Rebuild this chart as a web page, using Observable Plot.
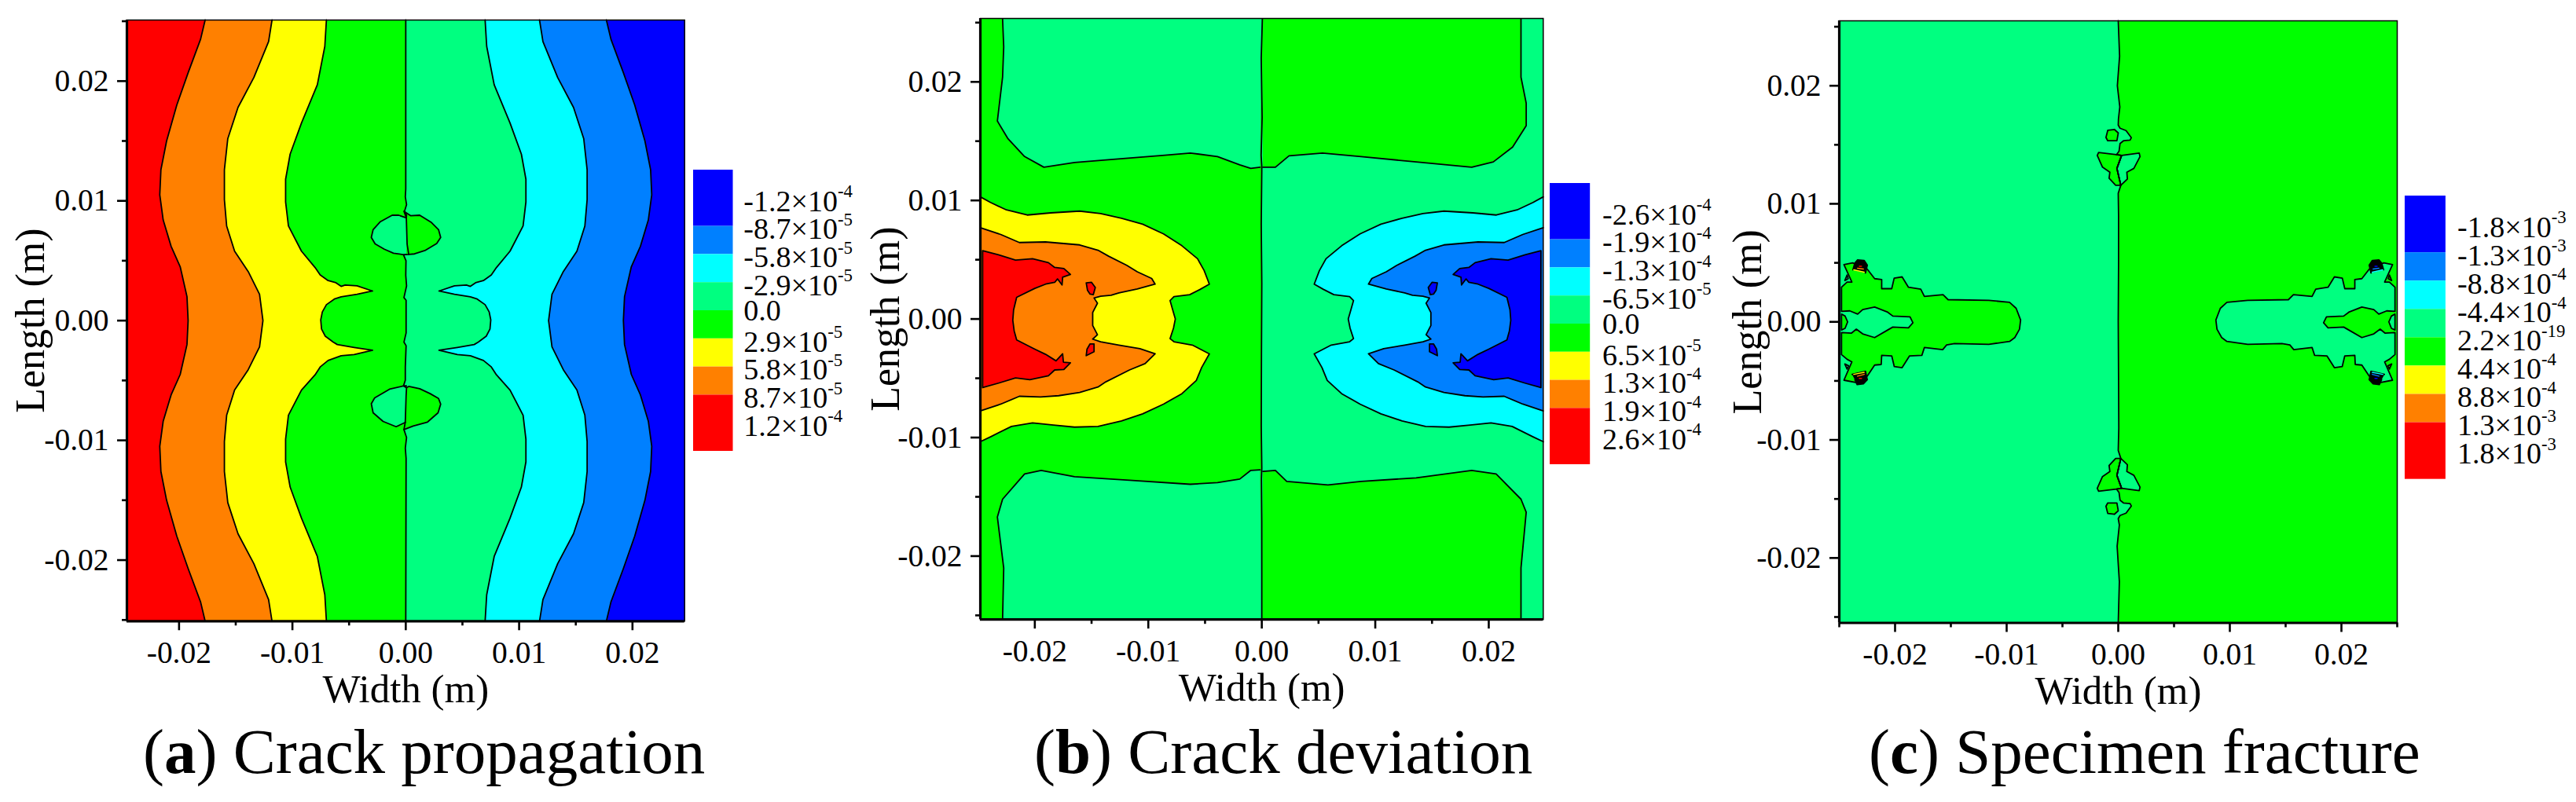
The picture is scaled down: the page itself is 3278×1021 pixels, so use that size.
<!DOCTYPE html>
<html><head><meta charset="utf-8">
<script src="https://cdn.jsdelivr.net/npm/d3@7"></script>
<script src="https://cdn.jsdelivr.net/npm/@observablehq/plot@0.6"></script>
<style>
html,body{margin:0;padding:0;background:#fff;overflow:hidden}
#page{position:absolute;left:0;top:0;width:3278px;height:1021px;font-family:"Liberation Serif",serif}
#page svg{position:absolute;overflow:visible;background:transparent}
.cap{position:absolute;font-size:81px;line-height:81px;white-space:nowrap;color:#000}
</style></head><body><div id="page"></div>
<script>
const RED="#ff0000",ORG="#ff8000",YEL="#ffff00",GRN="#00ff00",SPR="#00ff80",CYN="#00ffff",AZU="#0080ff",BLU="#0000ff";
const swatchColors=[BLU,AZU,CYN,SPR,GRN,YEL,ORG,RED];
const swatchTop=[-1,1,2,3,4,5,6,7], swatchBottom=[1,2,3,4,5,6,7,9];
const labelsA=["-1.2×10^-4","-8.7×10^-5","-5.8×10^-5","-2.9×10^-5","0.0","2.9×10^-5","5.8×10^-5","8.7×10^-5","1.2×10^-4"];
const labelsB=["-2.6×10^-4","-1.9×10^-4","-1.3×10^-4","-6.5×10^-5","0.0","6.5×10^-5","1.3×10^-4","1.9×10^-4","2.6×10^-4"];
const labelsC=["-1.8×10^-3","-1.3×10^-3","-8.8×10^-4","-4.4×10^-4","2.2×10^-19","4.4×10^-4","8.8×10^-4","1.3×10^-3","1.8×10^-3"];
const ticksMajor=[-0.02,-0.01,0,0.01,0.02];
const minorInner=[-0.015,-0.005,0.005,0.015];
const minorOuter=[-0.025,-0.015,-0.005,0.005,0.015,0.025];

// Panel (a): contour lines, in millimetres [width, length]
const a1=[[-17.7,25.1],[-18.1,23.5],[-19.2,20.7],[-20.2,18],[-21.1,15],[-21.6,12.6],[-21.7,10.5],[-21.4,8.4],[-20.7,6.2],[-19.9,4.5],[-19.3,2],[-19.2,0],[-19.3,-2],[-19.9,-4.5],[-20.7,-6.2],[-21.4,-8.4],[-21.7,-10.5],[-21.6,-12.6],[-21.1,-15],[-20.2,-18],[-19.2,-20.7],[-18.1,-23.5],[-17.7,-25.1]];
const a2=[[-11.8,25.1],[-12.1,23.3],[-13.4,20.3],[-14.8,17.8],[-15.7,15.2],[-16,12.6],[-16,10.1],[-15.8,7.9],[-15.1,5.8],[-13.9,4.1],[-12.9,2.2],[-12.6,0],[-12.9,-2.2],[-13.9,-4.1],[-15.1,-5.8],[-15.8,-7.9],[-16,-10.1],[-16,-12.6],[-15.7,-15.2],[-14.8,-17.8],[-13.4,-20.3],[-12.1,-23.3],[-11.8,-25.1]];
const a3=[[-7,25.1],[-7.14,22.9],[-7.8,19.7],[-9.2,16.5],[-10.2,13.9],[-10.6,11.8],[-10.6,9.9],[-10.35,7.9],[-9.2,5.8],[-8,4.43],[-7.55,3.82],[-6.85,3.34],[-6.16,3.16],[-5.7,2.86],[-5.35,2.97],[-4.3,2.9],[-2.93,2.47],[-4.3,2.2],[-5.7,1.98],[-6.3,1.8],[-7,1.33],[-7.36,0.72],[-7.5,0.06],[-7.43,-0.7],[-7.1,-1.3],[-6.4,-1.8],[-6.04,-2],[-4.55,-2.24],[-2.93,-2.47],[-4.55,-2.83],[-5.7,-2.94],[-6.85,-3.33],[-7.55,-3.87],[-8,-4.53],[-9.2,-5.8],[-10.35,-7.9],[-10.6,-9.9],[-10.6,-11.8],[-10.2,-13.9],[-9.2,-16.5],[-7.8,-19.7],[-7.14,-22.9],[-7,-25.1]];
const a6=[[7,25.1],[7.14,22.9],[7.8,19.7],[9.2,16.5],[10.2,13.9],[10.6,11.8],[10.6,9.9],[10.35,7.9],[9.2,5.8],[8,4.43],[7.55,3.82],[6.85,3.34],[6.16,3.16],[5.7,2.86],[5.35,2.97],[4.3,2.9],[2.93,2.47],[4.3,2.2],[5.7,1.98],[6.3,1.8],[7,1.33],[7.36,0.72],[7.5,0.06],[7.43,-0.7],[7.1,-1.3],[6.4,-1.8],[6.04,-2],[4.55,-2.24],[2.93,-2.47],[4.55,-2.83],[5.7,-2.94],[6.85,-3.33],[7.55,-3.87],[8,-4.53],[9.2,-5.8],[10.35,-7.9],[10.6,-9.9],[10.6,-11.8],[10.2,-13.9],[9.2,-16.5],[7.8,-19.7],[7.14,-22.9],[7,-25.1]];
const a7=[[11.8,25.1],[12.1,23.3],[13.4,20.3],[14.8,17.8],[15.7,15.2],[16,12.6],[16,10.1],[15.8,7.9],[15.1,5.8],[13.9,4.1],[12.9,2.2],[12.6,0],[12.9,-2.2],[13.9,-4.1],[15.1,-5.8],[15.8,-7.9],[16,-10.1],[16,-12.6],[15.7,-15.2],[14.8,-17.8],[13.4,-20.3],[12.1,-23.3],[11.8,-25.1]];
const a8=[[17.7,25.1],[18.1,23.5],[19.2,20.7],[20.2,18],[21.1,15],[21.6,12.6],[21.7,10.5],[21.4,8.4],[20.7,6.2],[19.9,4.5],[19.3,2],[19.2,0],[19.3,-2],[19.9,-4.5],[20.7,-6.2],[21.4,-8.4],[21.7,-10.5],[21.6,-12.6],[21.1,-15],[20.2,-18],[19.2,-20.7],[18.1,-23.5],[17.7,-25.1]];
const aMid=[[0,25.1],[0,11],[-0.04,10.33],[0.07,9.68],[-0.11,9.13],[0.07,8.8],[0.05,8.58],[0.12,6.4],[0.26,5.53],[-0.2,5.5],[0.02,5],[0,3.78],[0.07,2.9],[-0.16,1.92],[0.03,1.7],[0.03,-1.03],[-0.16,-1.8],[0.03,-2.1],[-0.04,-3.87],[-0.04,-4.97],[-0.2,-5.45],[0.07,-5.62],[0.03,-6.28],[-0.04,-8.47],[-0.16,-9.1],[0.07,-9.76],[-0.04,-10.65],[0.03,-11.5],[0,-25.1]];
const aBubUL=[[0.05,5.53],[-0.15,5.5],[-1.08,5.63],[-1.89,5.96],[-2.7,6.4],[-3.04,6.95],[-2.88,7.6],[-2.24,8.26],[-1.2,8.8],[-0.62,8.8],[0.05,8.58]];
const aBubUR=[[0.05,8.58],[-0.16,9.13],[0.42,8.76],[1.23,8.8],[2.27,8.19],[2.89,7.6],[3.08,6.95],[2.73,6.44],[1.69,5.85],[0.77,5.57],[0.26,5.53]];
const aBubLL=[[0.05,-5.45],[-0.16,-5.45],[-1.43,-5.73],[-2.74,-6.45],[-3.04,-6.94],[-2.88,-7.7],[-2,-8.42],[-0.85,-8.86],[-0.04,-8.5]];
const aBubLR=[[0.07,-5.6],[0.26,-5.5],[1.23,-5.69],[2.15,-6.1],[2.89,-6.5],[3.08,-6.98],[2.85,-7.7],[1.92,-8.47],[0.65,-8.8],[-0.16,-9.1]];

// Panel (b)
const bY=[[-24.8,10.3],[-23.9,9.83],[-22.5,9.2],[-20.67,8.77],[-18.6,8.95],[-16.05,9.1],[-14.2,8.9],[-12.36,8.5],[-10.5,8],[-8.66,7.18],[-7.04,6.18],[-5.66,5.08],[-5.08,4.09],[-4.62,2.94],[-5.43,2.5],[-6.35,2.05],[-7.74,1.88],[-8.08,1.55],[-7.85,0.77],[-7.62,0],[-7.78,-0.77],[-8.08,-1.66],[-7.74,-1.92],[-6.12,-2.2],[-4.62,-2.94],[-5.3,-4.09],[-5.77,-5.19],[-7.04,-6.3],[-8.66,-7.18],[-10.5,-8],[-12.36,-8.6],[-14.43,-9.06],[-16.5,-9.12],[-18.36,-8.95],[-20.2,-8.77],[-22.06,-9.06],[-23.9,-9.94],[-24.8,-10.35]];
const bO=[[-24.8,7.7],[-23,7.13],[-21.36,6.45],[-19.06,6.5],[-16.05,6.25],[-14.43,5.8],[-13.5,5.3],[-11.9,4.53],[-10.97,3.98],[-9.7,3.42],[-9.4,2.94],[-10.97,2.54],[-12.59,2.2],[-13.28,2],[-14.2,1.92],[-14.78,1.77],[-14.48,1.33],[-14.9,0.55],[-14.9,-0.55],[-14.48,-1.33],[-14.9,-1.7],[-14.2,-1.92],[-12.59,-2.2],[-10.74,-2.5],[-9.4,-2.94],[-10.28,-3.76],[-11.66,-4.3],[-13.74,-5.3],[-14.43,-5.74],[-16.05,-6.19],[-17.9,-6.47],[-19.5,-6.58],[-21.36,-6.52],[-23,-7.18],[-24.8,-7.75]];
const bR=[[-24.6,5.76],[-23.2,5.41],[-21.7,4.97],[-20.2,5.08],[-18.8,4.75],[-18.25,4.35],[-17.44,4.26],[-16.86,3.76],[-17.55,3.53],[-17.6,2.87],[-18,3.38],[-18.25,3.09],[-19.05,2.94],[-20,2.58],[-21.6,1.83],[-21.87,0.77],[-21.94,-0.11],[-21.82,-1],[-21.6,-1.77],[-20,-2.54],[-19.05,-2.98],[-18.13,-3.53],[-17.55,-2.94],[-17.48,-3.64],[-16.86,-3.69],[-17.44,-4.26],[-18.25,-4.3],[-18.8,-4.79],[-20.44,-5.12],[-21.7,-4.97],[-23.2,-5.41],[-24.6,-5.79],[-24.6,5.76]];
const bC=[[24.8,10.3],[23.9,9.83],[22.5,9.2],[20.67,8.77],[18.6,8.95],[16.05,9.1],[14.2,8.9],[12.36,8.5],[10.5,8],[8.66,7.18],[7.04,6.18],[5.66,5.08],[5.08,4.09],[4.62,2.94],[5.43,2.5],[6.35,2.05],[7.74,1.88],[8.08,1.55],[7.85,0.77],[7.62,0],[7.78,-0.77],[8.08,-1.66],[7.74,-1.92],[6.12,-2.2],[4.62,-2.94],[5.3,-4.09],[5.77,-5.19],[7.04,-6.3],[8.66,-7.18],[10.5,-8],[12.36,-8.6],[14.43,-9.06],[16.5,-9.12],[18.36,-8.95],[20.2,-8.77],[22.06,-9.06],[23.9,-9.94],[24.8,-10.35]];
const bA=[[24.8,7.7],[23,7.13],[21.36,6.45],[19.06,6.5],[16.05,6.25],[14.43,5.8],[13.5,5.3],[11.9,4.53],[10.97,3.98],[9.7,3.42],[9.4,2.94],[10.97,2.54],[12.59,2.2],[13.28,2],[14.2,1.92],[14.78,1.77],[14.48,1.33],[14.9,0.55],[14.9,-0.55],[14.48,-1.33],[14.9,-1.7],[14.2,-1.92],[12.59,-2.2],[10.74,-2.5],[9.4,-2.94],[10.28,-3.76],[11.66,-4.3],[13.74,-5.3],[14.43,-5.74],[16.05,-6.19],[17.9,-6.47],[19.5,-6.58],[21.36,-6.52],[23,-7.18],[24.8,-7.75]];
const bB=[[24.6,5.76],[23.2,5.41],[21.7,4.97],[20.2,5.08],[18.8,4.75],[18.25,4.35],[17.44,4.26],[16.86,3.76],[17.55,3.53],[17.6,2.87],[18,3.38],[18.25,3.09],[19.05,2.94],[20,2.58],[21.6,1.83],[21.87,0.77],[21.94,-0.11],[21.82,-1],[21.6,-1.77],[20,-2.54],[19.05,-2.98],[18.13,-3.53],[17.55,-2.94],[17.48,-3.64],[16.86,-3.69],[17.44,-4.26],[18.25,-4.3],[18.8,-4.79],[20.44,-5.12],[21.7,-4.97],[23.2,-5.41],[24.6,-5.79],[24.6,5.76]];
const bIsRU=[[-15.47,3.05],[-15,3.09],[-14.67,2.65],[-14.85,2.05],[-15.13,2.1],[-15.36,2.43],[-15.47,3.05]];
const bIsRL=[[-15.47,-3.09],[-14.78,-2.76],[-14.78,-2.1],[-15.13,-2.1],[-15.4,-2.54],[-15.47,-3.09]];
const bIsBU=[[15.47,3.05],[15,3.09],[14.67,2.65],[14.85,2.05],[15.13,2.1],[15.36,2.43],[15.47,3.05]];
const bIsBL=[[15.47,-3.09],[14.78,-2.76],[14.78,-2.1],[15.13,-2.1],[15.4,-2.54],[15.47,-3.09]];
const bTopL=[[-22.84,25.3],[-22.74,22.96],[-22.84,20.4],[-23.3,16.7],[-22.36,15.2],[-20.9,13.7],[-19.2,12.8],[-16.5,13.2],[-13.1,13.46],[-8.75,13.8],[-6.3,14],[-3.9,13.7],[-1.94,13],[-0.97,12.7],[-0.15,12.8]];
const bTopR=[[0.1,12.8],[1.2,12.8],[2.4,13.76],[5.35,14],[8.75,13.7],[13.6,13.25],[18.5,12.8],[20.4,13.25],[22.1,14.5],[23.3,16.3],[23.3,18.2],[22.84,20.4],[22.84,25.3]];
const bBotL=[[-22.84,-25.3],[-22.74,-21],[-23.3,-16.7],[-22.84,-15.2],[-20.9,-13.07],[-19.44,-12.77],[-16.5,-13.3],[-11.66,-13.6],[-6.3,-13.94],[-3.9,-13.8],[-1.94,-13.5],[-0.97,-12.77],[-0.15,-12.73]];
const bBotR=[[0.1,-12.86],[1.2,-12.77],[2.2,-13.7],[5.83,-14],[8.75,-13.7],[13.6,-13.4],[18.5,-12.77],[20.65,-13.07],[22.84,-15.2],[23.3,-16.3],[22.84,-21],[22.84,-25.3]];
const bMid=[[0.05,25.3],[-0.05,22],[0.03,17],[-0.06,13.8],[0,12.9],[0,12.6],[-0.05,8],[0,3],[-0.03,-3],[-0.05,-9],[0,-12.6],[-0.03,-13.5],[0,-17],[0,-25.3]];

// Panel (c)
const cBlobL=[[-24.58,4.85],[-23.8,5],[-22.5,4.47],[-21.83,3.66],[-21.2,3.59],[-21.2,2.81],[-20.3,2.81],[-20.08,3.7],[-19.37,3.81],[-18.8,2.93],[-17.7,2.77],[-17.37,2.15],[-15.7,2.3],[-15.25,1.88],[-11.6,1.82],[-9.74,1.66],[-9.15,1.15],[-8.75,0.16],[-8.85,-0.62],[-9.27,-1.33],[-9.74,-1.66],[-11.6,-1.9],[-14.67,-1.84],[-15.38,-1.95],[-15.73,-2.35],[-17.37,-2.17],[-17.6,-2.84],[-18.7,-2.88],[-19.37,-3.88],[-20.07,-3.79],[-20.3,-2.88],[-21.2,-2.84],[-21.24,-3.61],[-21.83,-3.66],[-22.5,-4.6],[-23.35,-5.16],[-24.58,-4.94],[-23.87,-3.39],[-24.3,-3.17],[-24.8,-2.77],[-24.8,-0.9],[-23.9,-0.95],[-23.47,-0.62],[-22.9,-1.02],[-21.83,-1.33],[-20.66,-0.69],[-20.2,-0.44],[-18.8,-0.51],[-18.4,-0.07],[-18.66,0.42],[-20.2,0.49],[-20.66,0.82],[-21.83,1.26],[-22.9,1.04],[-23.35,0.66],[-24.06,0.93],[-24.8,0.89],[-24.8,2.93],[-24.3,3.37],[-23.87,3.37],[-24.58,4.85]];
const cBlobR=[[24.58,4.85],[23.8,5],[22.5,4.47],[21.83,3.66],[21.2,3.59],[21.2,2.81],[20.3,2.81],[20.08,3.7],[19.37,3.81],[18.8,2.93],[17.7,2.77],[17.37,2.15],[15.7,2.3],[15.25,1.88],[11.6,1.82],[9.74,1.66],[9.15,1.15],[8.75,0.16],[8.85,-0.62],[9.27,-1.33],[9.74,-1.66],[11.6,-1.9],[14.67,-1.84],[15.38,-1.95],[15.73,-2.35],[17.37,-2.17],[17.6,-2.84],[18.7,-2.88],[19.37,-3.88],[20.07,-3.79],[20.3,-2.88],[21.2,-2.84],[21.24,-3.61],[21.83,-3.66],[22.5,-4.6],[23.35,-5.16],[24.58,-4.94],[23.87,-3.39],[24.3,-3.17],[24.8,-2.77],[24.8,-0.9],[23.9,-0.95],[23.47,-0.62],[22.9,-1.02],[21.83,-1.33],[20.66,-0.69],[20.2,-0.44],[18.8,-0.51],[18.4,-0.07],[18.66,0.42],[20.2,0.49],[20.66,0.82],[21.83,1.26],[22.9,1.04],[23.35,0.66],[24.06,0.93],[24.8,0.89],[24.8,2.93],[24.3,3.37],[23.87,3.37],[24.58,4.85]];
const cDL=[[-24.8,0.66],[-24.48,0.49],[-24.25,0],[-24.48,-0.55],[-24.8,-0.69],[-24.8,0.66]];
const cDR=[[24.8,0.66],[24.48,0.49],[24.25,0],[24.48,-0.55],[24.8,-0.69],[24.8,0.66]];
const cSmall=[[[-24.5,3.5],[-24.3,3.97],[-24.2,3.66],[-24.5,3.5]],[[-24.5,-3.57],[-24.17,-3.72],[-24.3,-4],[-24.5,-3.57]],[[24.5,3.5],[24.3,3.97],[24.2,3.66],[24.5,3.5]],[[24.5,-3.57],[24.17,-3.72],[24.3,-4],[24.5,-3.57]]];
const cDark=[[[-23.78,4.41],[-23.6,4.99],[-23.36,5.25],[-22.77,5.2],[-22.49,4.81],[-22.65,4.14]],[[-23.85,-4.45],[-22.65,-4.18],[-22.49,-4.9],[-22.84,-5.25],[-23.4,-5.32],[-23.6,-4.9]],[[23.78,4.41],[23.6,4.99],[23.36,5.25],[22.77,5.2],[22.49,4.81],[22.65,4.14]],[[23.85,-4.45],[22.65,-4.18],[22.49,-4.9],[22.84,-5.25],[23.4,-5.32],[23.6,-4.9]]];
const cMarksWarm=[{c:YEL,p:[[-23.7,4.41],[-22.77,4.21]]},{c:ORG,p:[[-23.36,4.54],[-22.84,4.48]]},{c:RED,p:[[-23.2,4.7],[-23,4.7]]},{c:YEL,p:[[-23.7,-4.45],[-22.77,-4.28]]},{c:ORG,p:[[-23.36,-4.6],[-22.77,-4.45]]},{c:RED,p:[[-23.2,-4.79],[-23,-4.79]]}];
const cMarksCool=[{c:CYN,p:[[23.7,4.41],[22.77,4.21]]},{c:AZU,p:[[23.36,4.54],[22.84,4.48]]},{c:BLU,p:[[23.2,4.7],[23,4.7]]},{c:CYN,p:[[23.7,-4.45],[22.77,-4.28]]},{c:AZU,p:[[23.36,-4.6],[22.77,-4.45]]},{c:BLU,p:[[23.2,-4.79],[23,-4.79]]}];
const cMid=[[0,25.5],[0.12,22.5],[-0.08,20],[0.14,18.2],[0.02,17.2],[0,16.67],[0.16,16.4],[0.7,16.2],[1.17,15.6],[1.06,15.4],[0.47,15.34],[0.16,15.1],[0.07,14.45],[-0.16,14.16],[0.3,14.1],[-0.12,13],[0.23,11.57],[0,10.9],[0.03,9],[0.03,5],[0,0],[0.03,-5],[0.05,-9],[0,-10.9],[0.23,-11.57],[-0.12,-13],[0.3,-14.1],[-0.16,-14.16],[0.07,-14.45],[0.16,-15.1],[0.47,-15.34],[1.06,-15.4],[1.17,-15.6],[0.7,-16.2],[0.16,-16.4],[0,-16.67],[0.1,-17.2],[-0.1,-19],[0.1,-22],[0,-25.5]];
const cLobeLU=[[-0.16,14.16],[-1.76,14.34],[-1.88,14.1],[-1.41,13.1],[-0.75,12.68],[-0.82,12.17],[-0.23,11.57],[0.23,11.57],[-0.12,13],[0.3,14.1],[-0.16,14.16]];
const cLobeRU=[[0.3,14.1],[1.88,14.3],[1.95,14],[1.4,13],[0.77,12.68],[0.82,12.1],[0.23,11.57],[-0.12,13],[0.3,14.1]];
const cLobeLL=[[-0.16,-14.16],[-1.76,-14.34],[-1.88,-14.1],[-1.41,-13.1],[-0.75,-12.68],[-0.82,-12.17],[-0.23,-11.57],[0.23,-11.57],[-0.12,-13],[0.3,-14.1],[-0.16,-14.16]];
const cLobeRL=[[0.3,-14.1],[1.88,-14.3],[1.95,-14],[1.4,-13],[0.77,-12.68],[0.82,-12.1],[0.23,-11.57],[-0.12,-13],[0.3,-14.1]];
const cIslU=[[-0.94,16.22],[-0.35,16.3],[0,16],[-0.12,15.34],[-0.94,15.34],[-1.1,15.62],[-0.94,16.22]];
const cIslL=[[-0.94,-16.22],[-0.35,-16.3],[0,-16],[-0.12,-15.34],[-0.94,-15.34],[-1.1,-15.62],[-0.94,-16.22]];

const W=1.8;
const page=document.getElementById("page");
const X=d=>d[0]/1000, Y=d=>d[1]/1000;
const fillL=(p,c)=>({p,fill:c});
const line=p=>({p,stroke:"#000"});
// A region closed along one vertical edge of the frame (edge in mm)
const toEdge=(p,edge)=>[...p,[edge,p[p.length-1][1]],[edge,p[0][1]]];

function panel(o){
  const mL=165, mR=10, mT=10, mB=130;
  const w=o.right-o.left+mL+mR, h=o.bottom-o.top+mT+mB;
  const xd=[-o.dx/1000,o.dx/1000], yd=[-o.dy/1000,o.dy/1000];
  const marks=[Plot.frame({fill:o.base,stroke:null})];
  for(const l of o.layers) marks.push(Plot.line(l.p,{x:X,y:Y,fill:l.fill||"none",stroke:l.stroke||"none",strokeWidth:l.w||W}));
  marks.push(
    Plot.frame({stroke:"#000",strokeWidth:1.5}),
    Plot.ruleX([xd[0]],{strokeWidth:3.2}),Plot.ruleY([yd[0]],{strokeWidth:3.2}),
    Plot.axisX({ticks:ticksMajor,tickSize:12,tickPadding:13,strokeWidth:2.6,tickFormat:d=>d.toFixed(2),fontSize:39.5,label:null}),
    Plot.axisX({ticks:o.minorX,tickSize:6,strokeWidth:2.6,tickFormat:()=>"",label:null}),
    Plot.axisY({ticks:ticksMajor,tickSize:12,tickPadding:11,strokeWidth:2.6,tickFormat:d=>d.toFixed(2),fontSize:39.5,label:null}),
    Plot.axisY({ticks:minorOuter,tickSize:6,strokeWidth:2.6,tickFormat:()=>"",label:null}),
    Plot.text(["Width (m)"],{frameAnchor:"bottom",dy:87,fontSize:51,lineAnchor:"middle"}),
    Plot.text(["Length (m)"],{frameAnchor:"left",dx:-o.yLabel,rotate:-90,fontSize:52,lineAnchor:"middle",textAnchor:"middle"})
  );
  const svg=Plot.plot({width:w,height:h,marginLeft:mL,marginRight:mR,marginTop:mT,marginBottom:mB,
    x:{domain:xd},y:{domain:yd},style:{fontFamily:"Liberation Serif",background:"transparent",overflow:"visible",color:"#000"},marks});
  svg.style.left=(o.left-mL)+"px"; svg.style.top=(o.top-mT)+"px";
  page.appendChild(svg);
}
function legend(labels,lx,lw,ly0,step,labelX){
  const swatches=swatchColors.map((c,i)=>({c,y1:swatchTop[i],y2:swatchBottom[i]}));
  const mR=170, m=2;
  const svg=Plot.plot({width:lw+mR,height:10*step+2*m,marginLeft:0,marginRight:mR,marginTop:m,marginBottom:m,
    x:{domain:[0,1],axis:null},y:{domain:[-1,9],reverse:true,axis:null},
    style:{fontFamily:"Liberation Serif",background:"transparent",overflow:"visible",color:"#000"},
    marks:[
      Plot.rect(swatches,{x1:()=>0,x2:()=>1,y1:"y1",y2:"y2",fill:d=>d.c}),
      Plot.text(labels,{x:()=>1,y:(d,i)=>i,text:d=>d,dx:labelX-lx-lw,textAnchor:"start",lineAnchor:"middle",fontSize:38})
    ]});
  d3.select(svg).selectAll("text").each(function(){
    const t=this.textContent; if(!t.includes("^")) return;
    const [base,exp]=t.split("^"); const s=d3.select(this); this.textContent="";
    s.append("tspan").attr("dy","0.11em").text(base);
    s.append("tspan").attr("dy","-0.77em").attr("font-size","60%").text(exp);
  });
  svg.style.left=lx+"px"; svg.style.top=(ly0-step-m)+"px";
  page.appendChild(svg);
}
function caption(letter,rest,x,y){
  const d=document.createElement("div"); d.className="cap"; d.style.left=x+"px"; d.style.top=y+"px";
  d.innerHTML="(<b>"+letter+"</b>) "+rest; page.appendChild(d);
}

panel({left:161.3,right:871,top:24.7,bottom:790,dx:24.6,dy:25.1,base:BLU,minorX:minorInner,yLabel:122,layers:[
  fillL(toEdge(a8,-24.6),AZU),fillL(toEdge(a7,-24.6),CYN),fillL(toEdge(a6,-24.6),SPR),fillL(toEdge(aMid,-24.6),GRN),
  fillL(toEdge(a3,-24.6),YEL),fillL(toEdge(a2,-24.6),ORG),fillL(toEdge(a1,-24.6),RED),
  fillL(aBubUL,SPR),fillL(aBubUR,GRN),fillL(aBubLL,SPR),fillL(aBubLR,GRN),
  line(a1),line(a2),line(a3),line(a6),line(a7),line(a8),line(aMid),line(aBubUL),line(aBubUR),line(aBubLL),line(aBubLR)]});
panel({left:1247.3,right:1963.6,top:22.8,bottom:788,dx:24.8,dy:25.35,base:GRN,minorX:minorInner,yLabel:120,layers:[
  fillL([[0,25.35],[24.8,25.35],[24.8,-25.35],[0,-25.35]],SPR),
  fillL([...bTopR,[0,25.35]],GRN),fillL([...bBotR,[0,-25.35]],GRN),
  fillL([...bTopL,[0,25.35]],SPR),fillL([...bBotL,[0,-25.35]],SPR),
  fillL(toEdge(bY,-24.8),YEL),fillL(toEdge(bO,-24.8),ORG),fillL(bR,RED),fillL(bIsRU,RED),fillL(bIsRL,RED),
  fillL(toEdge(bC,24.8),CYN),fillL(toEdge(bA,24.8),AZU),fillL(bB,BLU),fillL(bIsBU,BLU),fillL(bIsBL,BLU),
  line(bY),line(bO),line(bR),line(bIsRU),line(bIsRL),line(bC),line(bA),line(bB),line(bIsBU),line(bIsBL),
  line(bTopL),line(bTopR),line(bBotL),line(bBotR),line(bMid)]});
panel({left:2340,right:3050,top:26,bottom:792.5,dx:25,dy:25.5,base:GRN,minorX:minorOuter,yLabel:116,layers:[
  fillL(toEdge(cMid,-25),SPR),
  fillL(cBlobL,GRN),fillL(cBlobR,SPR),fillL(cDL,GRN),fillL(cDR,SPR),
  fillL(cLobeLU,GRN),fillL(cLobeRU,SPR),fillL(cLobeLL,GRN),fillL(cLobeRL,SPR),fillL(cIslU,GRN),fillL(cIslL,GRN),
  line(cMid),line(cBlobL),line(cBlobR),line(cDL),line(cDR),line(cLobeLU),line(cLobeRU),line(cLobeLL),line(cLobeRL),line(cIslU),line(cIslL),
  ...cSmall.map(line),
  ...cDark.map(p=>({p,fill:"#000",stroke:"#000"})),
  ...[...cMarksWarm,...cMarksCool].map(m=>({p:m.p,stroke:m.c,w:1.5}))]});

legend(labelsA,881.8,50.5,251.3,35.8,945.6);
legend(labelsB,1972,51.2,268.5,35.8,2038.6);
legend(labelsC,3059.8,51.9,284.8,36.07,3126.4);
caption("a","Crack propagation",182,917);
caption("b","Crack deviation",1316,917);
caption("c","Specimen fracture",2378,917);
</script></body></html>
